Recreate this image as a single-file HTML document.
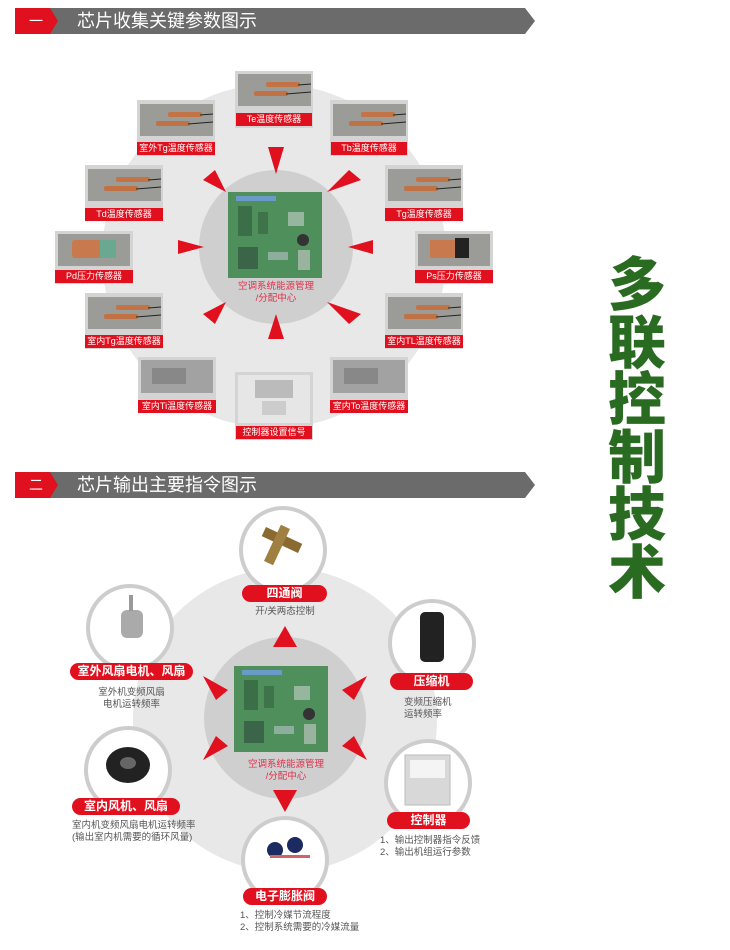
<!DOCTYPE html>
<html><head><meta charset="utf-8"><style>
body{margin:0;background:#fff;width:730px;height:950px;position:relative;overflow:hidden;font-family:"Liberation Sans","Noto Sans CJK SC",sans-serif}
.a{position:absolute}
.lbl{position:absolute;background:#e0101e;color:#fff;font-size:9px;line-height:13px;text-align:center;white-space:nowrap}
.pill{position:absolute;background:#e0101e;color:#fff;font-weight:bold;font-size:12px;line-height:17px;text-align:center;border-radius:9px;white-space:nowrap}
.sub{position:absolute;color:#555;font-size:9.5px;line-height:11.5px;white-space:nowrap}
.hd{position:absolute;left:15px;height:26px;width:520px}
.hd .t{position:absolute;left:62px;top:0;color:#fff;font-size:18px;line-height:26px}
.hd .n{position:absolute;left:6px;top:0;width:30px;color:#fff;font-size:14px;line-height:26px;text-align:center}
.big{position:absolute;left:606px;top:252px;width:62px;color:#2a6b22;font-weight:900;font-size:58px;line-height:57.5px;text-align:center;font-family:"Noto Sans CJK SC",sans-serif}
</style></head><body>
<svg class="a" style="left:0;top:0" width="730" height="950">
<defs>
<g id="cu"><rect x="0" y="0" width="73" height="32" fill="#9b9b98"/><rect x="28" y="8" width="34" height="5" rx="2" fill="#c27446"/><rect x="16" y="17" width="34" height="5" rx="2" fill="#c07245"/><line x1="60" y1="11" x2="73" y2="10" stroke="#222"/><line x1="48" y1="20" x2="73" y2="18" stroke="#222"/></g>
<g id="pcb"><rect x="0" y="0" width="94" height="86" fill="#4f8f5c"/><rect x="8" y="4" width="40" height="5" fill="#6a9ac8"/><rect x="10" y="14" width="14" height="30" fill="#2f5a3a" opacity=".6"/><rect x="30" y="20" width="10" height="22" fill="#2f5a3a" opacity=".5"/><rect x="60" y="20" width="16" height="14" fill="#ddd" opacity=".5"/><circle cx="75" cy="48" r="6" fill="#333"/><rect x="10" y="55" width="20" height="22" fill="#2f4a3a" opacity=".6"/><rect x="70" y="58" width="12" height="20" fill="#ccc" opacity=".6"/><rect x="40" y="60" width="20" height="8" fill="#ccd" opacity=".5"/></g>
</defs>
<!-- header 1 -->
<polygon points="15,8 525,8 535,21 525,34 15,34" fill="#6b6b6b"/>
<polygon points="15,8 50,8 58,21 50,34 15,34" fill="#e0101e"/>
<polygon points="15,472 525,472 535,485 525,498 15,498" fill="#6b6b6b"/>
<polygon points="15,472 50,472 58,485 50,498 15,498" fill="#e0101e"/>
<!-- top circle -->
<circle cx="274" cy="256" r="172" fill="#e8e8e8"/>
<circle cx="276" cy="247" r="77" fill="#cfcfcf"/>
<use href="#pcb" x="228" y="192"/>
<g fill="#e0101e">
<polygon points="268,147 284,147 276,174"/>
<polygon points="268,339 284,339 276,314"/>
<polygon points="178,240 178,254 204,247"/>
<polygon points="373,240 373,254 348,247"/>
<polygon points="203,180 215,170 226,192"/>
<polygon points="349,170 361,180 327,192"/>
<polygon points="203,314 215,324 226,302"/>
<polygon points="349,324 361,314 327,302"/>
</g>
<!-- bottom circle -->
<circle cx="285" cy="720" r="152" fill="#e8e8e8"/>
<circle cx="285" cy="718" r="81" fill="#cfcfcf"/>
<use href="#pcb" x="234" y="666" transform="translate(0,0)"/>
<g fill="#e0101e">
<polygon points="285,626 273,647 297,647"/>
<polygon points="285,812 273,790 297,790"/>
<polygon points="203,676 228,690 216,700"/>
<polygon points="367,676 342,690 354,700"/>
<polygon points="203,760 228,746 216,736"/>
<polygon points="367,760 342,746 354,736"/>
</g>
<g fill="#fff" stroke="#cdcdcd" stroke-width="4">
<circle cx="283" cy="550" r="42"/><circle cx="130" cy="628" r="42"/><circle cx="432" cy="643" r="42"/>
<circle cx="128" cy="770" r="42"/><circle cx="428" cy="783" r="42"/><circle cx="285" cy="860" r="42"/>
</g>
<!-- bottom images -->
<rect x="262" y="535" width="40" height="10" fill="#8a6a30" transform="rotate(25 282 540)"/>
<rect x="272" y="525" width="10" height="40" fill="#a08040" transform="rotate(25 277 545)"/>
<rect x="121" y="610" width="22" height="28" rx="6" fill="#aaa"/><rect x="129" y="595" width="4" height="16" fill="#999"/>
<rect x="420" y="612" width="24" height="50" rx="5" fill="#222"/>
<ellipse cx="128" cy="765" rx="22" ry="18" fill="#222"/><ellipse cx="128" cy="763" rx="8" ry="6" fill="#666"/>
<rect x="405" y="755" width="45" height="50" fill="#d8d8d8" stroke="#bbb"/><rect x="410" y="760" width="35" height="18" fill="#f4f4f4"/>
<circle cx="275" cy="850" r="8" fill="#1b2a60"/><circle cx="295" cy="845" r="8" fill="#1b2a60"/><rect x="270" y="855" width="40" height="3" fill="#c66"/>
<!-- top boxes frames -->
<g fill="#d4d4d4">
<rect x="235" y="71" width="78" height="57"/><rect x="137" y="100" width="78" height="56"/><rect x="330" y="100" width="78" height="56"/>
<rect x="85" y="165" width="78" height="56"/><rect x="385" y="165" width="78" height="56"/>
<rect x="55" y="231" width="78" height="53"/><rect x="415" y="231" width="78" height="53"/>
<rect x="85" y="293" width="78" height="56"/><rect x="385" y="293" width="78" height="56"/>
<rect x="138" y="357" width="78" height="56"/><rect x="330" y="357" width="78" height="56"/>
<rect x="235" y="372" width="78" height="68"/>
</g>
<use href="#cu" x="238" y="74"/><use href="#cu" x="140" y="104"/><use href="#cu" x="333" y="104"/>
<use href="#cu" x="88" y="169"/><use href="#cu" x="388" y="169"/>
<use href="#cu" x="88" y="297"/><use href="#cu" x="388" y="297"/>
<rect x="58" y="234" width="72" height="32" fill="#9b9b98"/><rect x="72" y="240" width="30" height="18" rx="3" fill="#c87a4e"/><rect x="100" y="240" width="16" height="18" fill="#6aa890"/>
<rect x="418" y="234" width="72" height="32" fill="#9b9b98"/><rect x="430" y="240" width="25" height="18" fill="#c87a4e"/><rect x="455" y="238" width="14" height="20" fill="#222"/>
<rect x="141" y="360" width="72" height="33" fill="#a2a2a2"/><rect x="152" y="368" width="34" height="16" fill="#888"/>
<rect x="333" y="360" width="72" height="33" fill="#a2a2a2"/><rect x="344" y="368" width="34" height="16" fill="#888"/>
<rect x="238" y="375" width="72" height="48" fill="#e6e6e6"/><rect x="255" y="380" width="38" height="18" fill="#bbb"/><rect x="262" y="401" width="24" height="14" fill="#ccc"/>
</svg>
<div class="hd" style="top:8px"><div class="n">一</div><div class="t">芯片收集关键参数图示</div></div>
<div class="hd" style="top:472px"><div class="n">二</div><div class="t">芯片输出主要指令图示</div></div>

<div class="lbl" style="left:236px;top:113px;width:76px">Te温度传感器</div>
<div class="lbl" style="left:137px;top:142px;width:78px">室外Tg温度传感器</div>
<div class="lbl" style="left:331px;top:142px;width:76px">Tb温度传感器</div>
<div class="lbl" style="left:85px;top:208px;width:78px">Td温度传感器</div>
<div class="lbl" style="left:385px;top:208px;width:78px">Tg温度传感器</div>
<div class="lbl" style="left:55px;top:270px;width:78px">Pd压力传感器</div>
<div class="lbl" style="left:415px;top:270px;width:78px">Ps压力传感器</div>
<div class="lbl" style="left:85px;top:335px;width:78px">室内Tg温度传感器</div>
<div class="lbl" style="left:385px;top:335px;width:78px">室内TL温度传感器</div>
<div class="lbl" style="left:138px;top:400px;width:78px">室内Ti温度传感器</div>
<div class="lbl" style="left:330px;top:400px;width:78px">室内To温度传感器</div>
<div class="lbl" style="left:236px;top:426px;width:76px">控制器设置信号</div>
<div class="a" style="left:226px;top:281px;width:100px;text-align:center;color:#e0304a;font-size:9.5px;line-height:12px">空调系统能源管理<br>/分配中心</div>
<div class="a" style="left:234px;top:759px;width:104px;text-align:center;color:#e0304a;font-size:9.5px;line-height:12px">空调系统能源管理<br>/分配中心</div>

<div class="pill" style="left:242px;top:585px;width:85px">四通阀</div>
<div class="sub" style="left:243px;top:606px;width:84px;text-align:center">开/关两态控制</div>
<div class="pill" style="left:70px;top:663px;width:123px">室外风扇电机、风扇</div>
<div class="sub" style="left:70px;top:687px;width:123px;text-align:center">室外机变频风扇<br>电机运转频率</div>
<div class="pill" style="left:390px;top:673px;width:83px">压缩机</div>
<div class="sub" style="left:404px;top:697px">变频压缩机<br>运转频率</div>
<div class="pill" style="left:72px;top:798px;width:108px">室内风机、风扇</div>
<div class="sub" style="left:72px;top:820px">室内机变频风扇电机运转频率<br>(输出室内机需要的循环风量)</div>
<div class="pill" style="left:387px;top:812px;width:83px">控制器</div>
<div class="sub" style="left:380px;top:835px">1、输出控制器指令反馈<br>2、输出机组运行参数</div>
<div class="pill" style="left:243px;top:888px;width:84px">电子膨胀阀</div>
<div class="sub" style="left:240px;top:910px">1、控制冷媒节流程度<br>2、控制系统需要的冷媒流量</div>

<div class="big">多联控制技术</div>
</body></html>
